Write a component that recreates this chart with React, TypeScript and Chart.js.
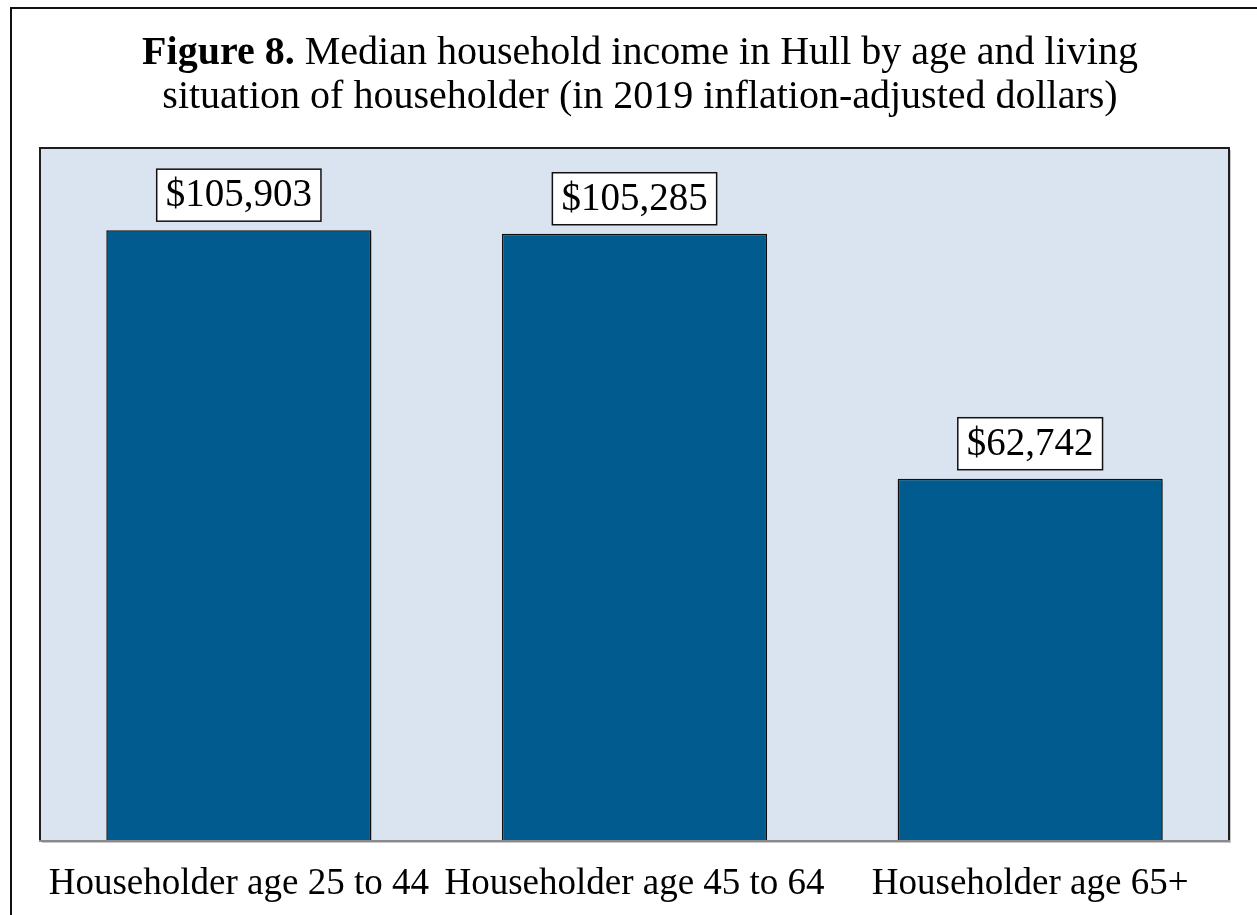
import React, { useEffect, useRef } from "react";
import { Chart, registerables } from "chart.js";

Chart.register(...registerables);

const categories = [
  "Householder age 25 to 44",
  "Householder age 45 to 64",
  "Householder age 65+",
];
const incomeValues = [105903, 105285, 62742];
const valueLabels = ["$105,903", "$105,285", "$62,742"];
const titleBold = "Figure 8.";
const titleLine1Rest = " Median household income in Hull by age and living";
const titleLine2 = "situation of householder (in 2019 inflation-adjusted dollars)";
const yAxisMin = 0;
const yAxisMax = 120000;

const FONT = "'Liberation Serif', 'Times New Roman', serif";
const PLOT_BG = "#DAE3F0";
const BAR_COLOR = "#025B8E";

const framePlugin = {
  id: "frame",
  beforeDraw(chart: any) {
    const ctx = chart.ctx as CanvasRenderingContext2D;
    const { left, top, right, bottom } = chart.chartArea;
    ctx.save();
    ctx.fillStyle = "#ffffff";
    ctx.fillRect(0, 0, chart.width, chart.height);
    // outer frame
    ctx.strokeStyle = "#111111";
    ctx.lineWidth = 2;
    ctx.beginPath();
    ctx.moveTo(11, chart.height + 2);
    ctx.lineTo(11, 8);
    ctx.lineTo(chart.width + 2, 8);
    ctx.stroke();
    // plot area shadow + background
    ctx.fillStyle = "rgba(0,0,0,0.22)";
    ctx.fillRect(left + 1, top + 1, right - left + 2, bottom - top + 2);
    ctx.fillStyle = PLOT_BG;
    ctx.fillRect(left, top, right - left, bottom - top);
    // plot border
    ctx.strokeStyle = "#1e1e1e";
    ctx.lineWidth = 2;
    ctx.beginPath();
    ctx.moveTo(left - 1, bottom + 1);
    ctx.lineTo(left - 1, top - 1);
    ctx.lineTo(right + 1, top - 1);
    ctx.lineTo(right + 1, bottom + 1);
    ctx.stroke();
    ctx.strokeStyle = "#8a8a8a";
    ctx.beginPath();
    ctx.moveTo(left - 2, bottom + 1);
    ctx.lineTo(right + 2, bottom + 1);
    ctx.stroke();
    ctx.restore();
  },
  beforeDatasetsDraw(chart: any) {
    const ctx = chart.ctx as CanvasRenderingContext2D;
    ctx.save();
    ctx.shadowColor = "rgba(0,0,0,0.28)";
    ctx.shadowBlur = 3;
    ctx.shadowOffsetX = 3;
    ctx.shadowOffsetY = 2;
  },
  afterDatasetsDraw(chart: any) {
    const ctx = chart.ctx as CanvasRenderingContext2D;
    ctx.restore();
    const meta = chart.getDatasetMeta(0);
    ctx.save();
    ctx.font = `39px ${FONT}`;
    ctx.textAlign = "center";
    ctx.textBaseline = "middle";
    meta.data.forEach((bar: any, i: number) => {
      const text = valueLabels[i];
      const w = ctx.measureText(text).width + 18;
      const h = 52;
      const x = bar.x - w / 2;
      const y = bar.y - 9 - h;
      ctx.fillStyle = "#ffffff";
      ctx.fillRect(x, y, w, h);
      ctx.strokeStyle = "#111111";
      ctx.lineWidth = 1.5;
      ctx.strokeRect(x, y, w, h);
      ctx.fillStyle = "#000000";
      ctx.fillText(text, bar.x, y + h / 2 + 1);
    });
    ctx.restore();
  },
  afterDraw(chart: any) {
    const ctx = chart.ctx as CanvasRenderingContext2D;
    ctx.save();
    ctx.fillStyle = "#000000";
    ctx.textBaseline = "alphabetic";
    ctx.textAlign = "left";
    const cx = 640;
    ctx.font = `bold 40px ${FONT}`;
    const wb = ctx.measureText(titleBold).width;
    ctx.font = `40px ${FONT}`;
    const wr = ctx.measureText(titleLine1Rest).width;
    let x = cx - (wb + wr) / 2;
    ctx.font = `bold 40px ${FONT}`;
    ctx.fillText(titleBold, x, 64);
    ctx.font = `40px ${FONT}`;
    ctx.fillText(titleLine1Rest, x + wb, 64);
    ctx.textAlign = "center";
    ctx.fillText(titleLine2, cx, 108);
    ctx.restore();
  },
};

export default function App() {
  const canvasRef = useRef<HTMLCanvasElement | null>(null);

  useEffect(() => {
    document.body.style.margin = "0";
    const canvas = canvasRef.current;
    if (!canvas) return;
    const chart = new Chart(canvas, {
      type: "bar",
      data: {
        labels: categories,
        datasets: [
          {
            data: incomeValues,
            backgroundColor: BAR_COLOR,
            borderColor: "#111111",
            borderWidth: 1.5,
            barPercentage: 0.67,
            categoryPercentage: 1,
          },
        ],
      },
      options: {
        animation: false,
        responsive: false,
        maintainAspectRatio: false,
        layout: { padding: { left: 41, right: 29, top: 149, bottom: 0 } },
        plugins: {
          legend: { display: false },
          title: { display: false },
          tooltip: { enabled: false },
        },
        scales: {
          x: {
            grid: { display: false, drawTicks: false },
            border: { display: false },
            ticks: {
              color: "#000000",
              font: { family: FONT, size: 37 },
              padding: 22,
              maxRotation: 0,
              autoSkip: false,
            },
            afterFit: (scale: any) => {
              scale.height = 75;
            },
          },
          y: {
            display: false,
            min: yAxisMin,
            max: yAxisMax,
          },
        },
      },
      plugins: [framePlugin],
    });
    return () => chart.destroy();
  }, []);

  return (
    <div style={{ width: 1257, height: 915 }}>
      <canvas ref={canvasRef} width={1257} height={915} />
    </div>
  );
}
